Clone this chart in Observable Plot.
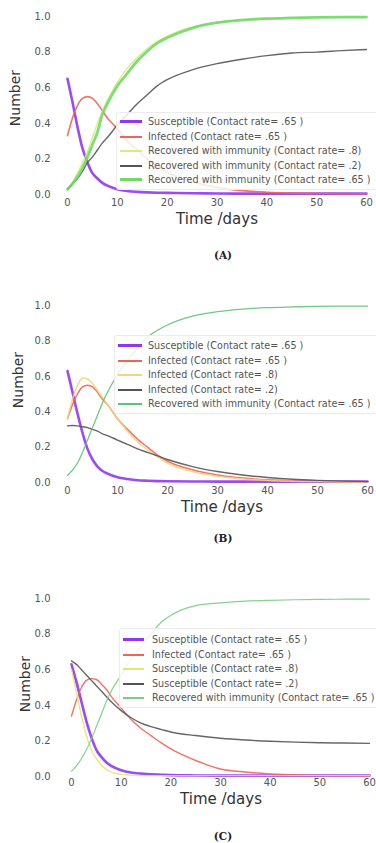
<!DOCTYPE html>
<html><head><meta charset="utf-8">
<script src="https://cdn.jsdelivr.net/npm/d3@7"></script>
<script src="https://cdn.jsdelivr.net/npm/@observablehq/plot@0.6"></script>
<style>
html,body{margin:0;padding:0;background:#fff;width:376px;height:843px;overflow:hidden;}
#page{position:relative;width:376px;height:843px;font-family:"DejaVu Sans",sans-serif;}
.panel{position:absolute;left:0;}
.lbl{position:absolute;color:#333;white-space:nowrap;}
.ylab{transform:translate(-50%,-50%) rotate(-90deg);font-size:14px;}
.xlab{transform:translate(-50%,-50%);font-size:15px;}
.cap{transform:translate(-50%,-50%);font-family:"DejaVu Serif","Liberation Serif",serif;font-weight:bold;font-size:10.5px;color:#222;}
.legend{position:absolute;background:rgba(255,255,255,0.82);border:1px solid #ececec;border-radius:3px;}
.row{position:absolute;height:15px;line-height:15px;font-size:9.6px;color:#555;white-space:nowrap;}
.sw{position:absolute;}
</style>
</head><body><div id="page"></div>
<script>
// time grid (days)
const days = [0,1,2,3,4,5,6,7,8,10,12,14,16,18,20,25,30,35,40,45,50,55,60];
const xTicks = [0,10,20,30,40,50,60];
const yTicks = [0,0.2,0.4,0.6,0.8,1.0];

// Panel A
const aSus65 = [0.65,0.52,0.38,0.26,0.18,0.12,0.09,0.065,0.05,0.03,0.02,0.015,0.012,0.01,0.009,0.007,0.006,0.005,0.005,0.005,0.005,0.005,0.005];
const aInf65 = [0.33,0.43,0.50,0.54,0.55,0.54,0.51,0.47,0.43,0.37,0.30,0.25,0.20,0.16,0.125,0.072,0.04,0.022,0.013,0.008,0.006,0.005,0.004];
const aRec8  = [0.03,0.07,0.12,0.18,0.24,0.32,0.40,0.47,0.53,0.63,0.71,0.77,0.82,0.86,0.89,0.94,0.965,0.98,0.988,0.992,0.995,0.996,0.997];
const aRec2  = [0.03,0.06,0.09,0.13,0.18,0.21,0.25,0.29,0.32,0.39,0.45,0.51,0.56,0.61,0.645,0.70,0.735,0.76,0.78,0.795,0.80,0.808,0.815];
const aRec65 = [0.03,0.06,0.10,0.15,0.21,0.28,0.35,0.45,0.51,0.61,0.68,0.75,0.805,0.85,0.88,0.935,0.965,0.98,0.988,0.992,0.995,0.996,0.997];

// Panel B
const bSus65 = [0.63,0.51,0.39,0.28,0.19,0.13,0.09,0.065,0.05,0.03,0.02,0.013,0.01,0.008,0.007,0.006,0.005,0.005,0.005,0.005,0.005,0.005,0.005];
const bInf65 = [0.36,0.44,0.50,0.54,0.55,0.54,0.51,0.47,0.44,0.36,0.30,0.245,0.20,0.155,0.12,0.072,0.042,0.025,0.015,0.009,0.006,0.004,0.003];
const bInf8  = [0.36,0.47,0.55,0.59,0.585,0.56,0.52,0.48,0.44,0.36,0.29,0.23,0.185,0.145,0.11,0.062,0.035,0.02,0.012,0.007,0.005,0.003,0.002];
const bInf2  = [0.32,0.322,0.32,0.315,0.31,0.30,0.29,0.275,0.265,0.24,0.215,0.19,0.17,0.15,0.13,0.09,0.062,0.042,0.028,0.018,0.012,0.008,0.005];
const bRec65 = [0.04,0.07,0.11,0.17,0.24,0.31,0.38,0.45,0.51,0.61,0.69,0.76,0.82,0.86,0.89,0.94,0.965,0.98,0.988,0.992,0.995,0.996,0.997];

// Panel C
const cSus65 = [0.63,0.53,0.42,0.31,0.22,0.15,0.11,0.08,0.06,0.035,0.022,0.016,0.012,0.01,0.008,0.006,0.005,0.005,0.005,0.005,0.005,0.005,0.005];
const cInf65 = [0.34,0.43,0.50,0.54,0.55,0.545,0.52,0.49,0.45,0.385,0.32,0.27,0.23,0.19,0.155,0.09,0.042,0.025,0.015,0.009,0.006,0.004,0.003];
const cSus8  = [0.60,0.47,0.34,0.23,0.15,0.10,0.065,0.04,0.025,0.012,0.008,0.006,0.005,0.005,0.005,0.005,0.005,0.005,0.005,0.005,0.005,0.005,0.005];
const cSus2  = [0.65,0.63,0.60,0.57,0.54,0.51,0.48,0.45,0.42,0.37,0.33,0.30,0.28,0.265,0.25,0.23,0.215,0.205,0.198,0.193,0.19,0.188,0.186];
const cRec65 = [0.03,0.06,0.10,0.15,0.21,0.28,0.35,0.42,0.48,0.57,0.66,0.73,0.80,0.865,0.905,0.96,0.975,0.985,0.99,0.993,0.995,0.996,0.997];

const labelsA = ["Susceptible (Contact rate= .65 )","Infected (Contact rate= .65 )","Recovered with immunity (Contact rate= .8)","Recovered with immunity (Contact rate= .2)","Recovered with immunity (Contact rate= .65 )"];
const labelsB = ["Susceptible (Contact rate= .65 )","Infected (Contact rate= .65 )","Infected (Contact rate= .8)","Infected (Contact rate= .2)","Recovered with immunity (Contact rate= .65 )"];
const labelsC = ["Susceptible (Contact rate= .65 )","Infected (Contact rate= .65 )","Susceptible (Contact rate= .8)","Susceptible (Contact rate= .2)","Recovered with immunity (Contact rate= .65 )"];

const PURPLE="#9038f0", RED="#f06458", YELLOW="#e6e474", GREY="#555555";

const panels = [
  {top:0, mt:16, mb:21, ml:67, mr:10, px:4, py:17, series:[aSus65,aInf65,aRec8,aRec2,aRec65], labels:labelsA,
   colors:[PURPLE,RED,"#d8ec78",GREY,"#72d86a"], widths:[2.6,1.6,1.4,1.4,2.8],
   legend:{left:116, top:112, rowTop:114, sw0:120, sw1:142, tx:148, h:76},
   ylab:[15,98], xlab:[217,219], cap:["(A)",223,255]},
  {top:289, mt:16, mb:22, ml:67, mr:9, px:4, py:17, series:[bSus65,bInf65,bInf8,bInf2,bRec65], labels:labelsB,
   colors:[PURPLE,RED,"#f2d47a",GREY,"#62c27a"], widths:[2.6,1.5,1.5,1.4,1.3],
   legend:{left:114, top:335, rowTop:338, sw0:118, sw1:142, tx:148, h:77},
   ylab:[18,380], xlab:[222,507], cap:["(B)",223,538]},
  {top:582, mt:16, mb:21, ml:71, mr:7, px:2, py:21, series:[cSus65,cInf65,cSus8,cSus2,cRec65], labels:labelsC,
   colors:[PURPLE,RED,YELLOW,GREY,"#78cc88"], widths:[2.6,1.4,1.4,1.4,1.2],
   legend:{left:119, top:628, rowTop:632, sw0:123, sw1:144, tx:152, h:78},
   ylab:[25,684], xlab:[221,799], cap:["(C)",223,836]}
];

const page = document.getElementById("page");

panels.forEach(p => {
  const marks = [];
  p.series.forEach((vals, i) => {
    const rows = days.map((t, j) => ({t, v: vals[j]}));
    marks.push(Plot.line(rows, {x:"t", y:"v", stroke:p.colors[i], strokeWidth:p.widths[i], curve:"monotone-x", strokeOpacity:0.9}));
  });
  marks.push(Plot.axisX({ticks:xTicks, tickSize:0, tickPadding:p.px, label:null, fontSize:10, fill:"#555"}));
  marks.push(Plot.axisY({ticks:yTicks, tickFormat:d3.format(".1f"), tickSize:0, tickPadding:p.py, label:null, fontSize:10, fill:"#555"}));
  const chart = Plot.plot({
    width:376, height:215,
    marginTop:p.mt, marginBottom:p.mb, marginLeft:p.ml, marginRight:p.mr,
    x:{domain:[0,60]}, y:{domain:[0,1]},
    style:{fontFamily:"DejaVu Sans", background:"transparent", overflow:"visible"},
    marks
  });
  const div = document.createElement("div");
  div.className = "panel";
  div.style.top = p.top + "px";
  div.appendChild(chart);
  page.appendChild(div);

  // legend
  const L = p.legend;
  const box = document.createElement("div");
  box.className = "legend";
  box.style.left = L.left + "px"; box.style.top = L.top + "px";
  box.style.width = (380 - L.left) + "px"; box.style.height = L.h + "px";
  page.appendChild(box);
  const step = [0, 15, 29, 44, 58];
  p.labels.forEach((lab, i) => {
    const row = document.createElement("div");
    row.className = "row";
    row.style.left = L.sw0 + "px";
    row.style.top = (L.rowTop + step[i]) + "px";
    row.style.width = (376 - L.sw0) + "px";
    const sw = document.createElement("div");
    sw.className = "sw";
    const w = p.widths[i] > 2 ? 3 : 2;
    sw.style.left = "0px"; sw.style.width = (L.sw1 - L.sw0) + "px";
    sw.style.height = w + "px"; sw.style.top = (w === 3 ? 6 : 7) + "px";
    sw.style.background = p.colors[i];
    row.appendChild(sw);
    const tx = document.createElement("span");
    tx.style.position = "absolute"; tx.style.left = (L.tx - L.sw0) + "px";
    tx.textContent = lab;
    row.appendChild(tx);
    page.appendChild(row);
  });

  const yl = document.createElement("div");
  yl.className = "lbl ylab"; yl.textContent = "Number";
  yl.style.left = p.ylab[0] + "px"; yl.style.top = p.ylab[1] + "px";
  page.appendChild(yl);
  const xl = document.createElement("div");
  xl.className = "lbl xlab"; xl.textContent = "Time /days";
  xl.style.left = p.xlab[0] + "px"; xl.style.top = p.xlab[1] + "px";
  page.appendChild(xl);
  const cp = document.createElement("div");
  cp.className = "lbl cap"; cp.textContent = p.cap[0];
  cp.style.left = p.cap[1] + "px"; cp.style.top = p.cap[2] + "px";
  page.appendChild(cp);
});
</script></body></html>
